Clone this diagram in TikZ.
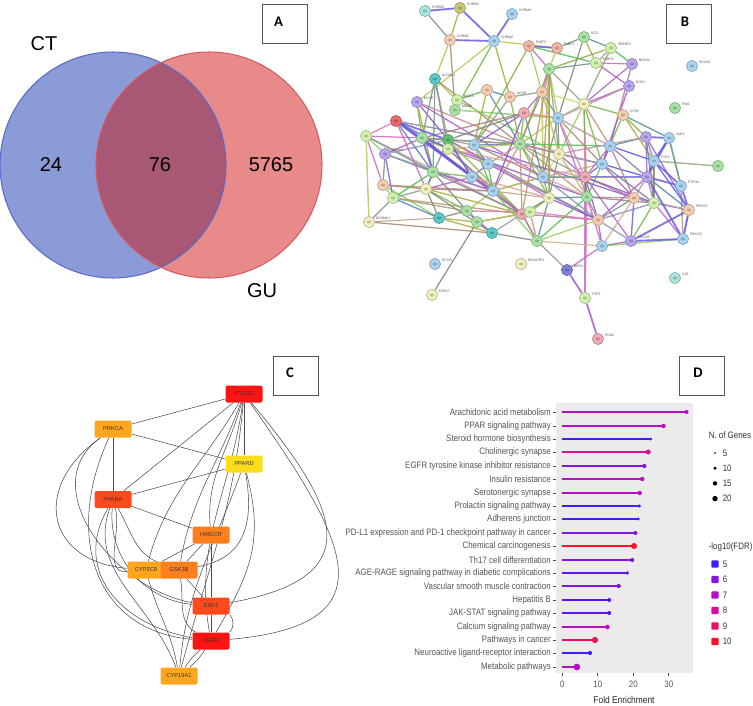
\documentclass[tikz,border=0pt]{standalone}
\usepackage{fontspec}
\setmainfont{Liberation Sans}
\newfontfamily\boxfont{Carlito}
\newfontfamily\chartfont[FakeStretch=0.85]{Liberation Sans}
\usetikzlibrary{calc}
\pgfdeclarelayer{bgwhite}
\pgfdeclarelayer{edges}
\pgfsetlayers{bgwhite,edges,main}
% Venn colours
\definecolor{vblue}{HTML}{8A9BD8}
\definecolor{vblueE}{HTML}{5A6CC8}
\definecolor{vred}{HTML}{E88A8A}
\definecolor{vredE}{HTML}{D85A60}
\definecolor{vmix}{HTML}{A85775}
% STRING node colours
\definecolor{cyanS}{HTML}{A8E6E0}
\definecolor{oliveS}{HTML}{C9C975}
\definecolor{lblueS}{HTML}{A9D3F2}
\definecolor{peachS}{HTML}{F7CDB0}
\definecolor{salmonS}{HTML}{F2B5A8}
\definecolor{greenS}{HTML}{A8E3A5}
\definecolor{lgreenS}{HTML}{D3F2B0}
\definecolor{purpleS}{HTML}{B9A6EE}
\definecolor{tealS}{HTML}{5CC8C8}
\definecolor{redS}{HTML}{EA6A6A}
\definecolor{lyelS}{HTML}{F2F0BE}
\definecolor{pinkS}{HTML}{F3AAB5}
\definecolor{dblueS}{HTML}{8080DA}
\definecolor{dgreenS}{HTML}{60C070}
% STRING edge colours
\definecolor{eG}{HTML}{55C055}
\definecolor{eO}{HTML}{A8AC40}
\definecolor{eP}{HTML}{B060C8}
\definecolor{eK}{HTML}{E676BE}
\definecolor{eB}{HTML}{5A5AE8}
\definecolor{eY}{HTML}{CADF70}
\definecolor{eT}{HTML}{40B8B8}
% Cytoscape colours
\definecolor{cRed}{HTML}{FA1414}
\definecolor{cRedO}{HTML}{FF4B1C}
\definecolor{cOrg}{HTML}{FF7E1E}
\definecolor{cAmb}{HTML}{FFA61E}
\definecolor{cYel}{HTML}{FDDC19}
% chart colours
\definecolor{dc5}{HTML}{3F1FFF}
\definecolor{dc55}{HTML}{5A14F5}
\definecolor{dc6}{HTML}{8314E6}
\definecolor{dc7}{HTML}{B80FC4}
\definecolor{dc8}{HTML}{D80F96}
\definecolor{dc9}{HTML}{EB0F64}
\definecolor{dc10}{HTML}{FF0F28}
\definecolor{panelgray}{HTML}{EBEBEB}
\definecolor{txtgray}{HTML}{555555}
\definecolor{boxgray}{HTML}{555555}
\begin{document}
\begin{tikzpicture}[x=0.75pt,y=-0.75pt,
  pbox/.style={draw=boxgray,line width=0.6pt,minimum width=33.75pt,minimum height=29.25pt,inner sep=0pt},
  pletter/.style={font=\boxfont\bfseries\fontsize{11}{13}\selectfont,inner sep=0pt},
  venntxt/.style={font=\fontsize{15}{18}\selectfont,inner sep=0pt},
  sn/.style={circle,inner sep=0pt,minimum size=8.4pt,fill=#1,draw=#1!75!black,line width=0.45pt,
    path picture={\fill[#1!45!black,opacity=0.35] (path picture bounding box.center) ellipse (1.7pt and 1.1pt);}},
  lbl/.style={font=\fontsize{2.6}{3}\selectfont,text=black!65,inner sep=0.6pt},
  cnode/.style={rectangle,rounded corners=1.5pt,minimum width=27.75pt,minimum height=12.75pt,inner sep=0pt,
    fill=#1,font=\fontsize{4.3}{5}\selectfont,text=black!80},
  cedge/.style={draw=black!70,line width=0.4pt},
  dlabel/.style={font=\chartfont\fontsize{7}{7.5}\selectfont,text=txtgray,inner sep=0pt,anchor=east},
  dtick/.style={font=\chartfont\fontsize{7}{7.5}\selectfont,text=txtgray,inner sep=0pt},
  legtxt/.style={font=\chartfont\fontsize{7}{7.5}\selectfont,text=black!80,inner sep=0pt,anchor=west}
]
\useasboundingbox (0,0) rectangle (753,706);
\begin{pgfonlayer}{bgwhite}
\fill[white] (0,0) rectangle (753,706);
\end{pgfonlayer}

% ================= Panel A: Venn =================
\fill[vblue] (113,165) circle (84.75pt);
\fill[vred] (209,165) circle (84.75pt);
\begin{scope}
  \clip (113,165) circle (84.75pt);
  \fill[vmix] (209,165) circle (84.75pt);
\end{scope}
\draw[vblueE,line width=0.8pt] (113,165) circle (84.75pt);
\draw[vredE,line width=0.8pt] (209,165) circle (84.75pt);
\node[venntxt] (tCT) at (44,44) {CT};
\node[venntxt] (t24) at (51,164.5) {24};
\node[venntxt] (t76) at (160,164.5) {76};
\node[venntxt] (t5765) at (271,164.5) {5765};
\node[venntxt] (tGU) at (262,291) {GU};

% panel boxes
\node[pbox] (boxA) at (284.5,23.5) {};
\node[pletter] (letA) at (278.5,22) {A};
\node[pbox] (boxB) at (689,23.5) {};
\node[pletter] (letB) at (685,21.5) {B};
\node[pbox] (boxC) at (295.5,376) {};
\node[pletter] (letC) at (290,373) {C};
\node[pbox] (boxD) at (702,376) {};
\node[pletter] (letD) at (698,373) {D};

% ================= Panel B: STRING network =================
\foreach \n/\x/\y/\cl/\lab in {1/425/11/cyanS/CHRM5, 2/460/8/oliveS/CHRM3, 3/512/14/lblueS/CHRM4,
  4/450/40/peachS/CHRM1, 5/494/41/lblueS/CHRM2, 6/529/46/salmonS/FABP5, 7/557/48/salmonS/FABP1,
  8/584/37/greenS/SCD, 9/611/48/lgreenS/SREBF2, 10/596/63/lgreenS/FABP4, 11/632/64/purpleS/NR1H3,
  12/692/66/lblueS/SCN5A, 13/629/86/purpleS/NOS1, 14/675/108/greenS/PIM1, 16/435/79/tealS/SLC6A4,
  17/417/102/purpleS/BCHE, 18/457/100/lgreenS/MAOA, 19/455/110/greenS/MAOB, 21/510/97/peachS/ACHE,
  26/623/115/peachS/CCR5, 37/669/138/lblueS/JAK3, 38/654/161/lblueS/TYK2, 40/385/154/purpleS/EPHX2,
  48/681/186/lblueS/PTPN6, 57/689/210/peachS/PRKCE, 58/369/222/lyelS/KCNMA1, 68/631/241/purpleS/PRKCB,
  69/683/239/lblueS/PRKCQ, 70/435/264/lblueS/GCGR, 71/521/264/lyelS/RASGRP1, 72/567/270/dblueS/BRD4,
  73/675/278/cyanS/CA6, 74/432/295/lyelS/P2RX7, 75/585/298/lgreenS/TOP1, 76/598/339/pinkS/POLB}
{
  \node[sn=\cl,label={[lbl]15:\lab}] (b\n) at (\x,\y) {};
}
\foreach \n/\x/\y/\cl in {15/549/69/greenS, 20/487/90/peachS, 22/542/92/peachS, 23/524/113/pinkS,
  24/584/104/lyelS, 25/558/118/lblueS, 27/396/121/redS, 28/366/136/lgreenS, 29/422/138/greenS,
  30/448/140/dgreenS, 31/448/149/lgreenS, 32/474/145/lblueS, 33/520/144/greenS, 34/559/154/lyelS,
  35/610/146/lblueS, 36/646/137/purpleS, 39/718/166/greenS, 41/433/172/greenS, 42/488/164/lblueS,
  43/472/177/lblueS, 44/602/164/lblueS, 45/647/177/purpleS, 46/543/177/lblueS, 47/585/177/pinkS,
  49/383/185/peachS, 50/426/189/lyelS, 51/393/198/lgreenS, 52/493/191/lblueS, 53/549/198/lyelS,
  54/587/197/greenS, 55/634/198/peachS, 56/654/203/lgreenS, 59/439/218/tealS, 60/467/211/greenS,
  61/477/222/greenS, 62/522/214/pinkS, 63/530/212/lgreenS, 64/598/220/peachS, 65/492/233/tealS,
  66/537/241/greenS, 67/602/246/lblueS}
{
  \node[sn=\cl] (b\n) at (\x,\y) {};
}

% ================= Panel C: Cytoscape network =================
\node[cnode=cRed] (ptgs) at (244,394) {PTGS2};
\node[cnode=cAmb] (prkca) at (113,429) {PRKCA};
\node[cnode=cYel] (ppard) at (244,464) {PPARD};
\node[cnode=cRedO] (ppara) at (113,499.5) {PPARA};
\node[cnode=cOrg] (hmgcr) at (211,535) {HMGCR};
\node[cnode=cAmb] (cyp2c9) at (146,570) {CYP2C9\hspace{7pt}};
\node[cnode=cOrg] (gsk3b) at (179,570) {GSK3B};
\node[cnode=cRedO] (esr1) at (211,606) {ESR1};
\node[cnode=cRed] (egfr) at (211,641) {EGFR};
\node[cnode=cAmb] (cyp19) at (179,676) {CYP19A1};

% ================= Panel D: lollipop chart =================
\fill[panelgray] (556,403) rectangle (693,673);
\foreach \i/\lab/\val/\cl/\rad in {
  1/Arachidonic acid metabolism/35.0/dc7/2.0,
  2/PPAR signaling pathway/28.5/dc7/2.2,
  3/Steroid hormone biosynthesis/24.9/dc5/1.7,
  4/Cholinergic synapse/24.2/dc8/2.5,
  5/EGFR tyrosine kinase inhibitor resistance/23.1/dc6/2.1,
  6/Insulin resistance/22.5/dc7/2.2,
  7/Serotonergic synapse/21.8/dc7/2.2,
  8/Prolactin signaling pathway/21.7/dc5/1.7,
  9/Adherens junction/21.4/dc5/1.7,
  10/PD-L1 expression and PD-1 checkpoint pathway in cancer/20.6/dc6/2.0,
  11/Chemical carcinogenesis/20.2/dc10/3.0,
  12/Th17 cell differentiation/19.7/dc6/2.1,
  13/AGE-RAGE signaling pathway in diabetic complications/18.3/dc55/1.9,
  14/Vascular smooth muscle contraction/15.9/dc6/2.1,
  15/Hepatitis B/13.2/dc55/2.0,
  16/JAK-STAT signaling pathway/13.2/dc55/2.0,
  17/Calcium signaling pathway/12.7/dc7/2.3,
  18/Pathways in cancer/9.2/dc9/3.1,
  19/Neuroactive ligand-receptor interaction/7.8/dc5/2.1,
  20/Metabolic pathways/4.1/dc7/3.4}
{
  \pgfmathsetmacro\yy{round(412.3+(\i-1)*13.39)}
  \pgfmathsetmacro\xx{562.3+3.55*\val}
  \pgfmathsetmacro\rr{\rad*0.75}
  \node[dlabel] (dl\i) at (551,\yy) {\lab};
  \coordinate (ds\i) at (562.3,\yy);
  \coordinate (de\i) at (\xx,\yy);
  \coordinate (tka\i) at (553,\yy);
  \coordinate (tkb\i) at (556,\yy);
  \draw[black!70,line width=0.5pt] (tka\i) -- (tkb\i);
  \draw[draw=\cl,line width=1.5pt] (ds\i) -- (de\i);
  \fill[\cl] (de\i) circle (\rr pt);
}
\foreach \k/\v in {0/0,1/10,2/20,3/30}{
  \pgfmathsetmacro\xt{562.3+35.5*\k}
  \coordinate (xa\k) at (\xt,673);
  \coordinate (xb\k) at (\xt,676);
  \draw[black!70,line width=0.5pt] (xa\k) -- (xb\k);
  \node[dtick] (xl\k) at (\xt,684.5) {\v};
}
\node[font=\chartfont\fontsize{7.4}{8}\selectfont,text=black!85,inner sep=0pt] (xtitle) at (624,700) {Fold Enrichment};
% legends
\node[legtxt] (lg1) at (708.5,435) {N. of Genes};
\foreach \k/\v/\rad in {0/5/0.9,1/10/1.7,2/15/2.2,3/20/2.7}{
  \pgfmathsetmacro\yl{453+15.2*\k}
  \pgfmathsetmacro\rr{\rad*0.75}
  \coordinate (gd\k) at (715,\yl);
  \fill[black] (gd\k) circle (\rr pt);
  \node[legtxt] (gl\k) at (722.5,\yl) {\v};
}
\node[legtxt] (lg2) at (708.5,547) {-log10(FDR)};
\foreach \k/\v/\cl in {0/5/dc5,1/6/dc6,2/7/dc7,3/8/dc8,4/9/dc9,5/10/dc10}{
  \pgfmathsetmacro\yl{564+15.5*\k}
  \node[fill=\cl,minimum size=5.4pt,inner sep=0pt,rounded corners=0.6pt] (sq\k) at (715,\yl) {};
  \node[legtxt] (sl\k) at (722.5,\yl) {\v};
}

% ================= Edges (background layer) =================
\begin{pgfonlayer}{edges}
% STRING edges: each drawn as a bundle of two evidence colours
\foreach \na/\nb/\cl in {1/4/eG, 2/4/eO, 4/16/eO, 4/19/eO, 5/19/eG, 5/21/eO, 5/17/eY, 5/7/eY,
  6/10/eG, 6/15/eP, 7/8/eG, 7/15/eO, 8/9/eG, 8/10/eO, 8/25/eO, 9/10/eG, 9/11/eG, 10/11/eK, 10/13/eP,
  10/15/eG, 11/24/eK, 13/24/eP, 13/25/eP, 9/15/eO, 26/24/eG, 26/38/eO, 26/37/eG, 26/44/eG, 26/36/eG,
  16/18/eO, 16/30/eP, 16/41/eG, 16/33/eO, 17/30/eP, 17/33/eK, 17/46/eK, 18/19/eG, 18/20/eG, 18/34/eY,
  19/25/eG, 20/21/eT, 20/32/eO, 20/33/eG, 21/22/eG, 21/33/eO, 21/32/eG, 6/32/eO, 6/22/eY,
  27/28/eK, 27/31/eB, 27/62/eP, 28/29/eK, 28/58/eO, 28/62/eP, 28/40/eG,
  40/29/eP, 40/41/eG, 40/49/eG, 40/52/eB, 49/51/eG, 49/59/eG, 49/52/eO, 51/59/eB, 51/60/eG, 51/62/eO,
  58/65/eO, 58/59/eY, 59/61/eO, 59/65/eO, 61/65/eG, 65/66/eO, 74/61/eO,
  66/72/eK, 72/67/eP, 75/47/eP, 75/54/eK, 66/67/eY, 66/62/eK, 67/68/eP, 69/56/eP, 68/56/eG,
  36/38/eP, 36/45/eB, 38/56/eB, 45/56/eP, 56/57/eP, 55/56/eG, 55/45/eP, 39/38/eG,
  35/36/eG, 35/44/eP, 35/38/eB, 44/45/eB, 44/47/eP, 44/54/eG,
  25/33/eO, 25/34/eG, 25/24/eY, 25/35/eP, 25/44/eO, 25/46/eG, 25/54/eK, 25/22/eG, 25/15/eO,
  23/25/eK, 23/33/eG, 23/32/eP, 23/22/eK, 23/29/eP, 23/30/eO,
  24/35/eO, 24/34/eY, 24/15/eG, 24/9/eG, 24/44/eO, 15/33/eO, 15/46/eO, 15/34/eG, 15/22/eP,
  22/33/eO, 22/46/eO, 22/24/eY,
  29/30/eG, 29/31/eG, 29/33/eP, 29/54/eP, 30/31/eG, 30/32/eK, 30/33/eG, 30/50/eP, 30/64/eP,
  31/42/eO, 31/52/eG, 31/47/eK, 32/33/eG, 32/42/eB, 32/55/eP, 33/42/eO, 33/46/eG, 33/52/eO,
  33/53/eO, 33/62/eO, 33/34/eG, 33/35/eG, 34/46/eY, 34/47/eP, 34/54/eO, 34/53/eG, 34/36/eP,
  41/43/eG, 41/50/eG, 41/52/eK, 42/43/eB, 42/52/eG, 42/64/eP, 43/50/eP, 43/52/eB,
  46/47/eG, 46/53/eG, 46/52/eP, 46/54/eK, 47/54/eB, 47/55/eP, 47/45/eB, 47/64/eP,
  50/52/eP, 50/60/eG, 52/53/eY, 52/62/eP, 52/60/eO, 53/62/eG, 53/63/eO, 53/66/eG,
  54/64/eK, 54/67/eP, 54/55/eO, 55/64/eG, 55/57/eP, 64/67/eP, 64/68/eB, 62/63/eG, 63/66/eO,
  62/66/eP, 60/61/eG, 60/63/eK, 60/65/eB, 61/62/eO, 61/63/eO, 65/62/eY, 66/64/eY,
  11/35/eP, 13/44/eP, 57/69/eG, 48/69/eG,
  27/33/eP, 27/52/eB, 29/52/eK, 29/62/eO, 30/62/eO, 30/53/eP, 31/33/eO, 31/62/eO, 32/52/eG,
  32/46/eP, 41/62/eO, 41/60/eO, 43/62/eP, 43/53/eK, 50/62/eO, 50/65/eO, 52/66/eG, 52/46/eO,
  42/33/eY, 33/54/eO, 33/47/eK, 33/44/eP, 46/44/eK, 46/64/eB, 53/64/eP, 53/54/eG, 62/64/eP,
  63/64/eK, 66/54/eG, 34/44/eB, 35/47/eP, 35/45/eB, 35/55/eP, 44/55/eK, 44/56/eB, 47/56/eP,
  54/56/eP, 64/56/eB, 64/45/eP, 55/68/eB, 47/68/eK, 67/55/eK, 67/69/eG, 36/56/eB,
  36/57/eB, 38/57/eB, 45/57/eB, 25/47/eP, 24/47/eK, 24/54/eO, 22/34/eO, 23/46/eG, 23/52/eP,
  15/53/eO, 15/62/eO, 16/29/eG, 16/31/eG, 17/29/eG, 17/41/eO, 28/41/eG, 28/49/eK, 40/51/eB,
  40/30/eB, 27/41/eB, 27/50/eP, 49/50/eO, 51/50/eG, 51/41/eG, 59/60/eO, 59/50/eO, 58/51/eG}
{
  \pgfmathtruncatemacro\hh{mod(\na*7+\nb*3,6)}
  \ifcase\hh \def\cb{eG}\or \def\cb{eP}\or \def\cb{eO}\or \def\cb{eK}\or \def\cb{eY}\or \def\cb{eB}\fi
  \draw[draw=\cl,double=\cb,double distance=0.4pt,line width=0.3pt,opacity=0.75] (b\na) -- (b\nb);
}
\foreach \na/\nb/\cl in {1/2/eB, 2/5/eB, 3/5/eB, 4/5/eB, 27/29/eB, 27/30/eB, 27/43/eB, 29/41/eB,
  29/43/eB, 30/43/eB, 68/69/eB, 69/57/eB, 57/48/eB, 48/38/eB, 36/37/eB, 37/38/eB, 45/48/eB,
  45/69/eB, 38/45/eB, 72/75/eP, 75/76/eP, 6/7/eB, 37/48/eG, 68/57/eB, 45/37/eB}
{
  \draw[draw=\cl,double=eP!60!eB,double distance=0.5pt,line width=0.45pt,opacity=0.75] (b\na) -- (b\nb);
}
% Cytoscape edges
\draw[cedge] (ptgs) -- (prkca);
\draw[cedge] (ptgs) -- (ppard);
\draw[cedge] (ptgs) -- (ppara);
\draw[cedge] (ptgs) to[out=240,in=75] (cyp2c9);
\draw[cedge] (ptgs) to[out=250,in=80] (gsk3b);
\draw[cedge] (ptgs) to[out=255,in=95] (hmgcr);
\draw[cedge] (ptgs) to[out=262,in=100] (egfr);
\draw[cedge] (ptgs) to[out=265,in=75] (cyp19);
\draw[cedge] (ptgs) to[out=-50,in=10,looseness=1.8] (esr1);
\draw[cedge] (ptgs) to[out=-55,in=5,looseness=1.8] (egfr);
\draw[cedge] (prkca) -- (ppard);
\draw[cedge] (prkca) -- (ppara);
\draw[cedge] (ppard) -- (ppara);
\draw[cedge] (ppara) -- (hmgcr);
\draw[cedge] (hmgcr) -- (esr1);
\draw[cedge] (hmgcr) -- (cyp2c9);
\draw[cedge] (hmgcr) -- (gsk3b);
\draw[cedge] (esr1) -- (egfr);
\draw[cedge] (egfr) to[bend left=8] (cyp19);
\draw[cedge] (egfr) to[bend right=8] (cyp19);
\draw[cedge] (gsk3b) -- (esr1);
\draw[cedge] (ppard) to[out=-80,in=10,looseness=1.2] (gsk3b);
\draw[cedge] (ppard) to[out=-75,in=60,looseness=1.1] (egfr);
\draw[cedge] (ppard) to[out=250,in=85] (cyp19);
\draw[cedge] (prkca) to[out=215,in=175,looseness=1.6] (cyp2c9);
\draw[cedge] (prkca) to[out=215,in=170,looseness=1.1] (esr1);
\draw[cedge] (prkca) to[out=245,in=175,looseness=1.2] (egfr);
\draw[cedge] (ppara) to[out=240,in=170,looseness=1.2] (egfr);
\draw[cedge] (ppara) to[out=250,in=110] (cyp19);
\draw[cedge] (ppara) to[out=265,in=175] (esr1);
\draw[cedge] (ppara) to[out=300,in=160] (gsk3b);
\draw[cedge] (ppara) to[out=285,in=185] (cyp2c9);
\draw[cedge] (cyp2c9) to[out=-75,in=100] (cyp19);
\draw[cedge] (gsk3b) to[out=-80,in=150] (egfr);
\draw[cedge] (esr1.south east) to[bend left=40] (egfr.north east);
\end{pgfonlayer}
\end{tikzpicture}
\end{document}
